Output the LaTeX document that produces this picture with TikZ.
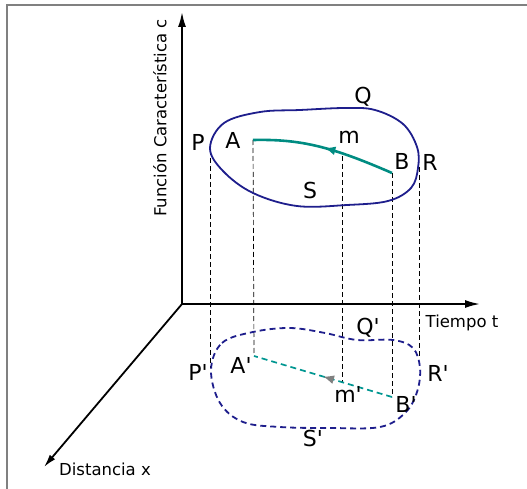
\documentclass[tikz,border=0pt]{standalone}
\usepackage{fontspec}
\setmainfont{DejaVu Sans}
\usetikzlibrary{arrows.meta,decorations.markings}
\definecolor{navyc}{RGB}{30,30,140}
\definecolor{tealc}{RGB}{0,140,130}
\definecolor{tealdc}{RGB}{0,150,145}
\definecolor{framec}{RGB}{128,128,128}
\newcommand{\pr}{\textquotesingle}
\tikzset{
  axis/.style={line width=1.8pt,black},
  proj/.style={line width=0.7pt,black,dash pattern=on 5pt off 3pt},
  lbl/.style={font=\fontsize{22}{22}\selectfont,inner sep=0pt},
  axlbl/.style={font=\fontsize{16.5}{16.5}\selectfont,inner sep=0pt},
  upper/.style={line width=1.8pt,navyc},
  lower/.style={line width=1.8pt,navyc,dash pattern=on 6pt off 4pt},
}
\begin{document}
\begin{tikzpicture}[x=1pt,y=-1pt]
\useasboundingbox (0,0) rectangle (527,489);
% frame
\draw[framec,line width=1.5pt] (7,489) -- (7,5) -- (527,5);
% axes
\coordinate (O) at (182,304);
\coordinate (Ytip) at (182,12);
\coordinate (Ttip) at (480,304);
\coordinate (Xtip) at (44,467);
\draw[axis,-{Latex[length=15pt,width=8pt]}] (O) -- (Ytip);
\draw[axis,-{Latex[length=15pt,width=8pt]}] (O) -- (Ttip);
\draw[axis,-{Latex[length=13pt,width=7pt]}] (O) -- (Xtip);
\node[axlbl,rotate=90] (ylab) at (160,118) {Función Característica c};
\node[axlbl] (tlab) at (462,323) {Tiempo t};
\node[axlbl] (xlab) at (105,469) {Distancia x};
% upper points
\coordinate (A) at (253,140);
\coordinate (B) at (392,173);
\coordinate (P) at (210,150);
\coordinate (R) at (419,167);
\coordinate (M) at (342,156);
% lower points
\coordinate (Ap) at (254,356);
\coordinate (Bp) at (392,397);
\coordinate (Pp) at (210,368);
\coordinate (Rp) at (419,358);
\coordinate (Mp) at (342,382);
% projection lines
\foreach \u/\l in {P/Pp,A/Ap,M/Mp,B/Bp,R/Rp}
  \draw[proj] (\u) -- (\l);
% upper curve
\draw[upper] plot[smooth cycle,tension=0.6] coordinates {
 (210,148) (224,123) (260,112) (300,110) (345,108) (375,110) (403,124)
 (417,147) (418,168) (411,188) (388,201) (347,205) (297,206) (253,193) (223,171)};
% lower curve
\draw[lower] plot[smooth cycle,tension=0.6] coordinates {
 (211,370) (222,343) (253,332) (290,328) (325,333) (357,340) (393,340)
 (413,348) (420,368) (417,392) (405,413) (380,427) (330,428) (280,427)
 (243,422) (220,403)};
% teal path upper
\draw[tealc,line width=2.6pt,
  postaction={decorate},
  decoration={markings,mark=at position 0.5 with {\arrow{Latex[length=11pt,width=9pt]}}}]
  (B) .. controls (330,146) and (300,139) .. (A);
% teal path lower
\draw[tealdc,line width=1.7pt,dash pattern=on 6pt off 4pt,
  postaction={decorate},
  decoration={markings,mark=at position 0.5 with {\arrow{Latex[length=11pt,width=9pt,color=framec,fill=framec]}}}]
  (Bp) -- (Ap);
% labels
\node[lbl] (lP) at (198,142) {P};
\node[lbl] (lA) at (233,140) {A};
\node[lbl] (lm) at (349,137) {m};
\node[lbl] (lB) at (402,161) {B};
\node[lbl] (lR) at (430,162) {R};
\node[lbl] (lQ) at (363,97) {Q};
\node[lbl] (lS) at (310,190) {S};
\node[lbl] (lPp) at (198,372) {P\pr};
\node[lbl] (lAp) at (241,365) {A\pr};
\node[lbl] (lQp) at (368,328) {Q\pr};
\node[lbl] (lRp) at (438,373) {R\pr};
\node[lbl] (lMp) at (348,394) {m\pr};
\node[lbl] (lBp) at (406,404) {B\pr};
\node[lbl] (lSp) at (313,438) {S\pr};
\end{tikzpicture}
\end{document}
